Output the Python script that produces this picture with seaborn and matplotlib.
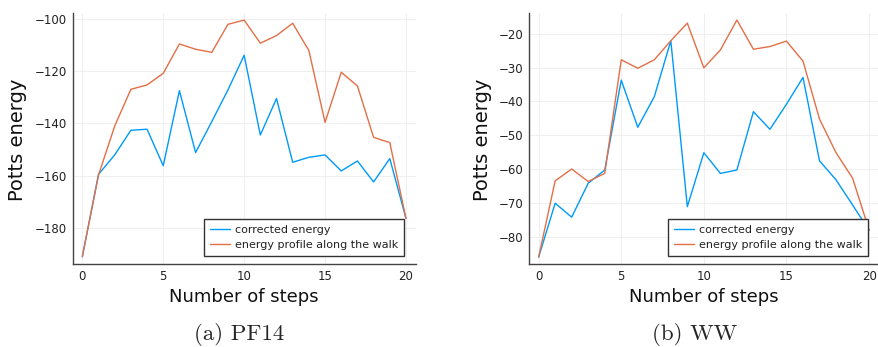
import matplotlib
matplotlib.use("Agg")
import matplotlib.pyplot as plt
import numpy as np
import pandas as pd
import seaborn as sns

steps = list(range(21))

# PF14 energies along the walk
pf14_corrected = [-190.8, -159.4, -152.0, -142.6, -142.2, -156.1, -127.5, -151.1,
                  -139.3, -127.2, -114.0, -144.4, -130.5, -154.8, -152.9, -152.0,
                  -158.1, -154.3, -162.3, -153.4, -176.2]
pf14_profile = [-190.8, -159.7, -141.0, -127.0, -125.3, -120.9, -109.7, -111.7,
                -112.9, -102.2, -100.6, -109.4, -106.5, -101.8, -112.2, -139.6,
                -120.5, -125.7, -145.3, -147.3, -176.2]

# WW energies along the walk
ww_corrected = [-85.9, -70.0, -74.1, -64.1, -60.2, -33.7, -47.6, -38.6,
                -22.1, -71.0, -55.1, -61.2, -60.2, -43.0, -48.2, -40.8,
                -32.9, -57.5, -63.1, -70.5, -78.0]
ww_profile = [-85.9, -63.4, -59.9, -63.6, -61.2, -27.7, -30.2, -27.7,
              -22.1, -16.9, -30.1, -24.8, -16.0, -24.6, -23.8, -22.2,
              -28.1, -45.2, -55.1, -62.6, -77.9]

series_labels = ["corrected energy", "energy profile along the walk"]
captions = ["(a) PF14", "(b) WW"]
xlabel = "Number of steps"
ylabel = "Potts energy"

BLUE = "#009AFA"
RED = "#E36F47"

sns.set_theme(style="white")
plt.rcParams["font.family"] = ["DejaVu Sans"]

fig = plt.figure(figsize=(8.79, 3.47), dpi=100)

panels = [
    dict(rect=[0.0826, 0.2383, 0.3903, 0.7234], corrected=pf14_corrected,
         profile=pf14_profile, ylim=(-193.7, -98.0), yticks=[-180, -160, -140, -120, -100],
         leg_x=0.966, ylab_x=-0.133, cap_x=239.5 / 879),
    dict(rect=[0.6015, 0.2383, 0.3985, 0.7234], corrected=ww_corrected,
         profile=ww_profile, ylim=(-88.0, -14.0), yticks=[-80, -70, -60, -50, -40, -30, -20],
         leg_x=0.969, ylab_x=-0.105, cap_x=695 / 879),
]

for p, cap in zip(panels, captions):
    ax = fig.add_axes(p["rect"])
    df = pd.DataFrame({
        "step": steps * 2,
        "energy": p["corrected"] + p["profile"],
        "series": [series_labels[0]] * len(steps) + [series_labels[1]] * len(steps),
    })
    sns.lineplot(data=df, x="step", y="energy", hue="series",
                 palette=[BLUE, RED], linewidth=1.0, ax=ax)
    ax.set_xlim(-0.6, 20.6)
    ax.set_ylim(*p["ylim"])
    ax.set_xticks([0, 5, 10, 15, 20])
    ax.set_yticks(p["yticks"])
    ax.set_yticklabels([f"\u2212{abs(v)}" for v in p["yticks"]])
    ax.grid(True, color="#ededed", linewidth=0.6)
    ax.set_axisbelow(True)
    for side in ["top", "right"]:
        ax.spines[side].set_visible(False)
    for side in ["left", "bottom"]:
        ax.spines[side].set_color("#444444")
        ax.spines[side].set_linewidth(1.0)
    ax.tick_params(axis="both", direction="in", length=3, width=0.8,
                   color="#444444", labelsize=8.5, labelcolor="#222222", pad=4)
    ax.set_xlabel(xlabel, fontsize=13, color="#111111")
    ax.set_ylabel(ylabel, fontsize=14, color="#111111")
    ax.xaxis.set_label_coords(0.5, -0.094)
    ax.yaxis.set_label_coords(p["ylab_x"], 0.495)
    leg = ax.legend(loc="lower right", bbox_to_anchor=(p["leg_x"], 0.033),
                    borderaxespad=0, fontsize=8, frameon=True, fancybox=False,
                    handlelength=1.8, handletextpad=0.45, borderpad=0.55,
                    labelspacing=0.45, framealpha=1.0)
    leg.get_frame().set_edgecolor("#333333")
    leg.get_frame().set_linewidth(1.0)
    for t in leg.get_texts():
        t.set_color("#222222")
    fig.text(p["cap_x"], 1 - 335 / 347, cap, ha="center", va="center",
             fontsize=16.5, family="cmr10")

fig.savefig("out.png", dpi=100)
